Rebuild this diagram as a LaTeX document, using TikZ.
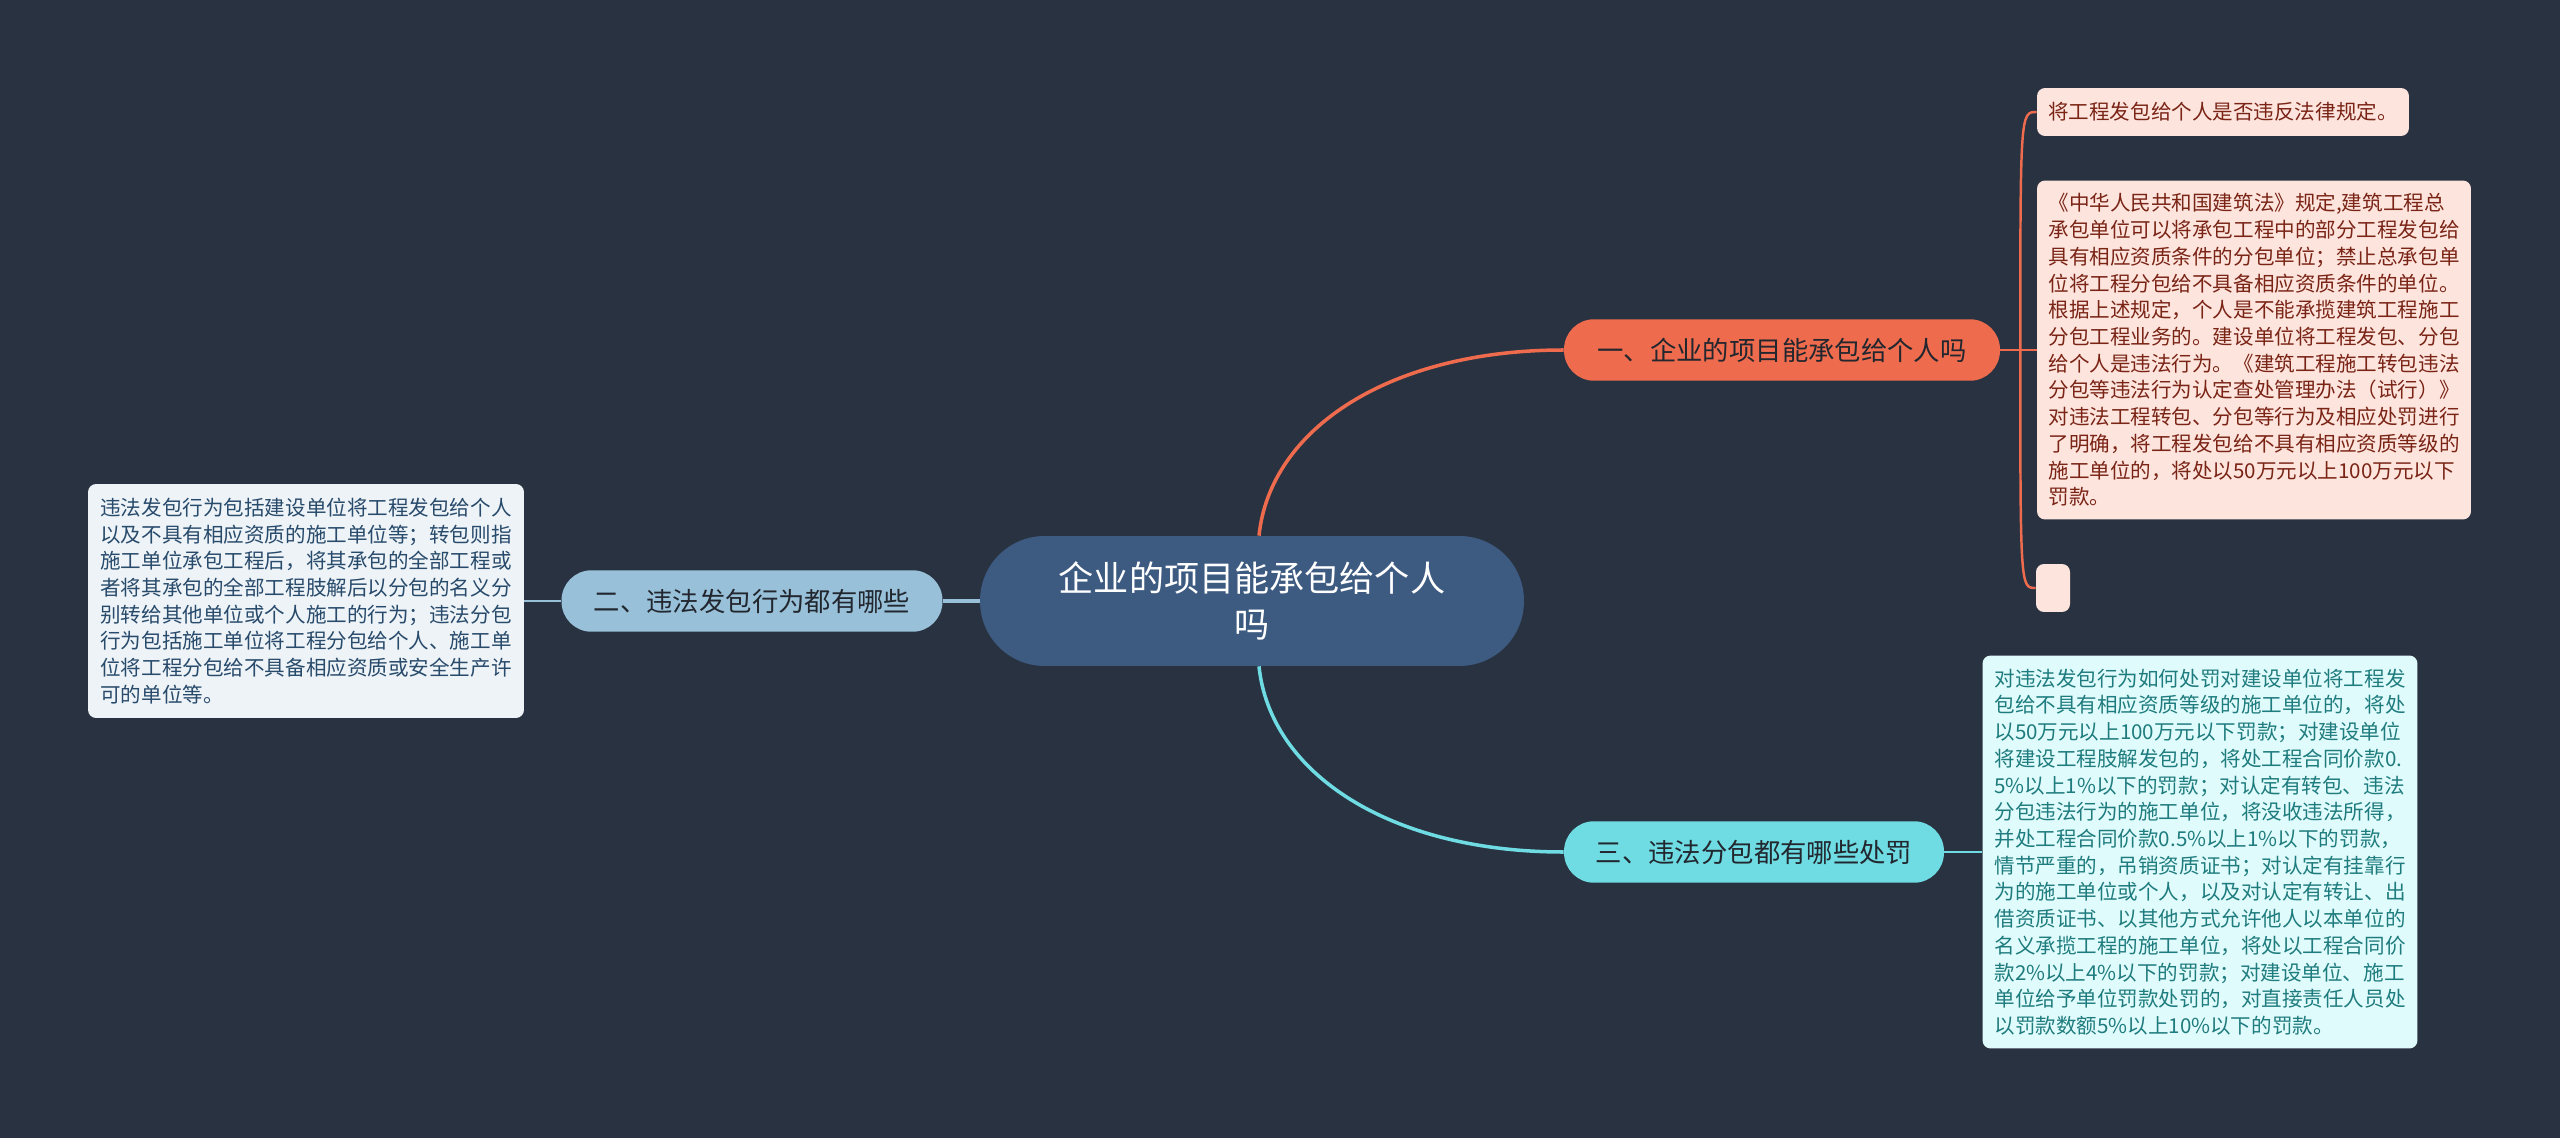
\documentclass[tikz,border=0pt]{standalone}
\usepackage{fontspec}
\setmainfont{Noto Sans CJK SC}

\definecolor{bgnavy}{HTML}{293241}
\definecolor{rootblue}{HTML}{3D5A80}
\definecolor{orangebr}{HTML}{EE6C4D}
\definecolor{bluebr}{HTML}{98C1D9}
\definecolor{cyanbr}{HTML}{6EDCE2}
\definecolor{pinkleaf}{HTML}{FDE5DE}
\definecolor{greyleaf}{HTML}{EDF3F7}
\definecolor{cyanleaf}{HTML}{E0FBFC}
\definecolor{redtext}{HTML}{7A2416}
\definecolor{bluetext}{HTML}{284A6B}
\definecolor{tealtext}{HTML}{1F7C7E}
\definecolor{darktext}{HTML}{22262E}

\begin{document}
\begin{tikzpicture}[
  x=0.02cm, y=-0.02cm,
  root/.style={fill=rootblue, rounded corners=1.29cm, minimum width=10.88cm, minimum height=2.6cm,
               inner sep=0pt, align=center, text=white, font=\fontsize{20pt}{26pt}\selectfont},
  branch/.style={fill=#1, rounded corners=0.6cm, minimum height=1.23cm, inner sep=0pt,
                 text=darktext, font=\fontsize{15pt}{18pt}\selectfont},
  leaf/.style={fill=#1, rounded corners=0.16cm, inner sep=0pt, align=left,
               font=\fontsize{11.7pt}{15.2pt}\selectfont},
  link/.style={line width=2pt, draw=#1},
  twig/.style={line width=1.4pt, draw=#1},
]

% ===== Canvas =====
\fill[bgnavy] (0,0) rectangle (2560,1138);
\useasboundingbox (0,0) rectangle (2560,1138);

% ===== Root =====
\node[root] (root) at (1252, 601) {企业的项目能承包给个人\\吗};

% ===== Branches =====
\node[branch=orangebr, minimum width=8.72cm] (b1) at (1782, 350) {一、企业的项目能承包给个人吗};
\node[branch=bluebr, minimum width=7.62cm] (b2) at (752, 601) {二、违法发包行为都有哪些};
\node[branch=cyanbr, minimum width=7.6cm] (b3) at (1754, 852) {三、违法分包都有哪些处罚};

\draw[link=orangebr] ([xshift=0.14cm]root.north) .. controls +(11,-107) and +(-174,0) .. (b1.west);
\draw[link=cyanbr] ([xshift=0.14cm]root.south) .. controls +(11,107) and +(-174,0) .. (b3.west);
\draw[link=bluebr] (root.west) -- (b2.east);

% ===== Leaves of branch 1 =====
\node[leaf=pinkleaf, text=redtext, minimum width=7.44cm, minimum height=0.96cm] (l1a) at (2223, 112)
  {将工程发包给个人是否违反法律规定。};
\node[leaf=pinkleaf, text=redtext, minimum width=8.68cm, minimum height=6.78cm] (l1b) at (2254, 350)
  {《中华人民共和国建筑法》规定,建筑工程总\\
   承包单位可以将承包工程中的部分工程发包给\\
   具有相应资质条件的分包单位；禁止总承包单\\
   位将工程分包给不具备相应资质条件的单位。\\
   根据上述规定，个人是不能承揽建筑工程施工\\
   分包工程业务的。建设单位将工程发包、分包\\
   给个人是违法行为。《建筑工程施工转包违法\\
   分包等违法行为认定查处管理办法（试行）》\\
   对违法工程转包、分包等行为及相应处罚进行\\
   了明确，将工程发包给不具有相应资质等级的\\
   施工单位的，将处以50万元以上100万元以下\\
   罚款。};
\node[leaf=pinkleaf, minimum width=0.68cm, minimum height=0.96cm] (l1c) at (2053, 588) {};

\coordinate (j1) at ([xshift=0.4cm]b1.east);
\draw[twig=orangebr] (b1.east) -- (j1) -- (l1b.west);
\draw[twig=orangebr] (j1) .. controls (j1 |- l1a.west) .. (l1a.west);
\draw[twig=orangebr] (j1) .. controls (j1 |- l1c.west) .. (l1c.west);

% ===== Leaf of branch 2 =====
\node[leaf=greyleaf, text=bluetext, minimum width=8.72cm, minimum height=4.68cm] (l2) at (306, 601)
  {违法发包行为包括建设单位将工程发包给个人\\
   以及不具有相应资质的施工单位等；转包则指\\
   施工单位承包工程后，将其承包的全部工程或\\
   者将其承包的全部工程肢解后以分包的名义分\\
   别转给其他单位或个人施工的行为；违法分包\\
   行为包括施工单位将工程分包给个人、施工单\\
   位将工程分包给不具备相应资质或安全生产许\\
   可的单位等。};
\draw[twig=bluebr] (b2.west) -- (l2.east);

% ===== Leaf of branch 3 =====
\node[leaf=cyanleaf, text=tealtext, minimum width=8.7cm, minimum height=7.86cm] (l3) at (2200, 852)
  {对违法发包行为如何处罚对建设单位将工程发\\
   包给不具有相应资质等级的施工单位的，将处\\
   以50万元以上100万元以下罚款；对建设单位\\
   将建设工程肢解发包的，将处工程合同价款0.\\
   5\%以上1\%以下的罚款；对认定有转包、违法\\
   分包违法行为的施工单位，将没收违法所得，\\
   并处工程合同价款0.5\%以上1\%以下的罚款，\\
   情节严重的，吊销资质证书；对认定有挂靠行\\
   为的施工单位或个人，以及对认定有转让、出\\
   借资质证书、以其他方式允许他人以本单位的\\
   名义承揽工程的施工单位，将处以工程合同价\\
   款2\%以上4\%以下的罚款；对建设单位、施工\\
   单位给予单位罚款处罚的，对直接责任人员处\\
   以罚款数额5\%以上10\%以下的罚款。};
\draw[twig=cyanbr] (b3.east) -- (l3.west);

\end{tikzpicture}
\end{document}
